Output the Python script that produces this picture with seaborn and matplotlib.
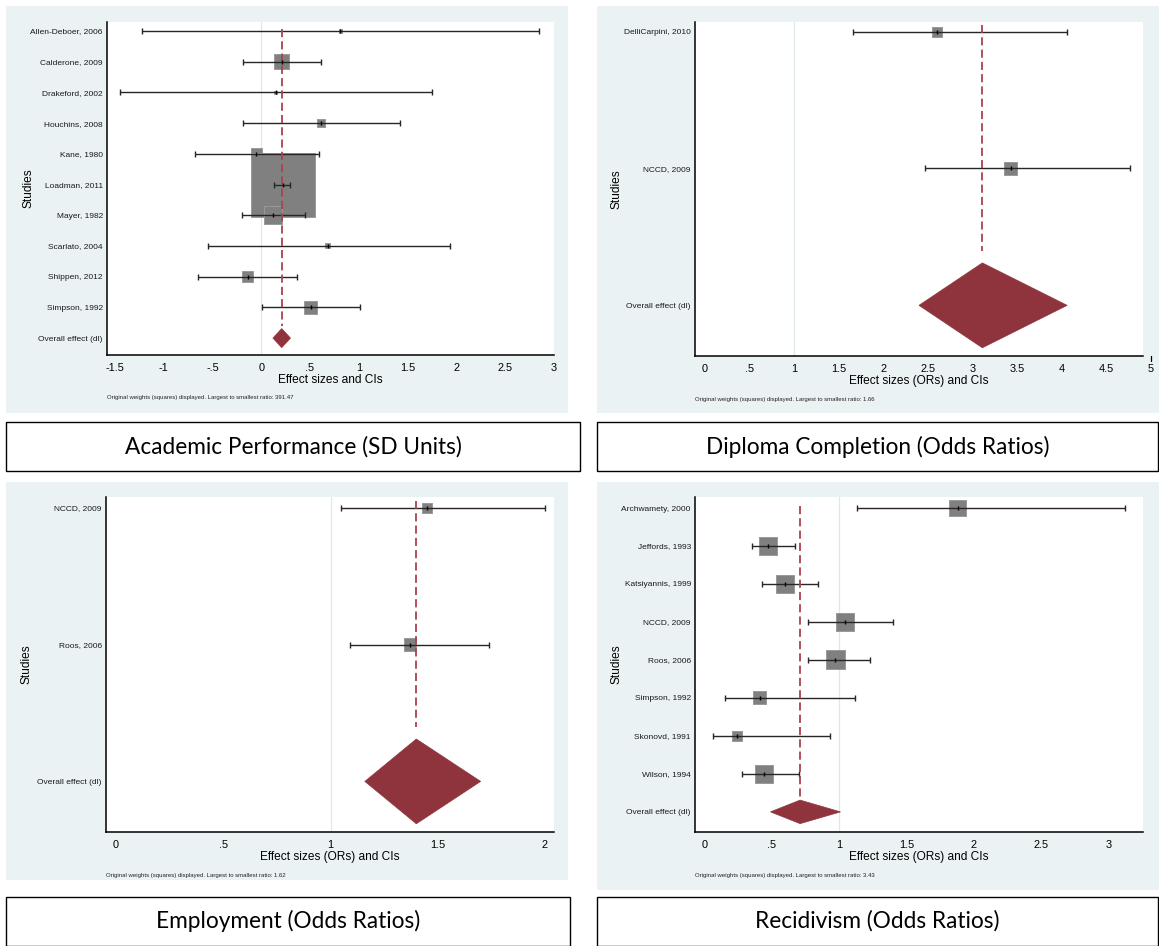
import matplotlib
matplotlib.use("Agg")
import numpy as np
import pandas as pd
import matplotlib.pyplot as plt
import seaborn as sns
from matplotlib.patches import Rectangle, Polygon
from matplotlib.ticker import FuncFormatter

# ---- Academic Performance (SD units) ----
acad_studies = ["Allen-Deboer, 2006", "Calderone, 2009", "Drakeford, 2002", "Houchins, 2008",
                "Kane, 1980", "Loadman, 2011", "Mayer, 1982", "Scarlato, 2004",
                "Shippen, 2012", "Simpson, 1992"]
acad_es = [0.81, 0.21, 0.15, 0.61, -0.05, 0.22, 0.12, 0.68, -0.14, 0.51]
acad_lo = [-1.22, -0.19, -1.45, -0.19, -0.68, 0.13, -0.20, -0.55, -0.65, 0.01]
acad_hi = [2.85, 0.61, 1.75, 1.42, 0.59, 0.30, 0.45, 1.93, 0.37, 1.01]
acad_wt = [0.20, 4.36, 0.20, 1.24, 2.34, 79.3, 6.27, 0.48, 2.34, 3.27]
acad_overall = [0.21, 0.12, 0.30]
acad_ticks = [-1.5, -1, -0.5, 0, 0.5, 1, 1.5, 2, 2.5, 3]
acad_ratio = "391.47"

# ---- Diploma Completion (odds ratios) ----
dipl_studies = ["DelliCarpini, 2010", "NCCD, 2009"]
dipl_es = [2.60, 3.43]
dipl_lo = [1.66, 2.47]
dipl_hi = [4.06, 4.76]
dipl_wt = [37.6, 62.4]
dipl_overall = [3.11, 2.40, 4.06]
dipl_ticks = [0, 0.5, 1, 1.5, 2, 2.5, 3, 3.5, 4, 4.5]
dipl_ratio = "1.66"

# ---- Employment (odds ratios) ----
empl_studies = ["NCCD, 2009", "Roos, 2006"]
empl_es = [1.45, 1.37]
empl_lo = [1.05, 1.09]
empl_hi = [2.00, 1.74]
empl_wt = [38.2, 61.8]
empl_overall = [1.40, 1.16, 1.70]
empl_ticks = [0, 0.5, 1, 1.5, 2]
empl_ratio = "1.62"

# ---- Recidivism (odds ratios) ----
reci_studies = ["Archwamety, 2000", "Jeffords, 1993", "Katsiyannis, 1999", "NCCD, 2009",
                "Roos, 2006", "Simpson, 1992", "Skonovd, 1991", "Wilson, 1994"]
reci_es = [1.88, 0.47, 0.60, 1.04, 0.97, 0.41, 0.24, 0.44]
reci_lo = [1.13, 0.35, 0.43, 0.77, 0.77, 0.15, 0.065, 0.28]
reci_hi = [3.12, 0.67, 0.84, 1.40, 1.23, 1.12, 0.93, 0.70]
reci_wt = [13.0, 14.6, 14.6, 14.6, 16.3, 7.6, 4.75, 14.6]
reci_overall = [0.71, 0.49, 1.01]
reci_ticks = [0, 0.5, 1, 1.5, 2, 2.5, 3]
reci_ratio = "3.43"

captions = ["Academic Performance (SD Units)", "Diploma Completion (Odds Ratios)",
            "Employment (Odds Ratios)", "Recidivism (Odds Ratios)"]

W, H = 1159, 946
BG = "#eaf2f3"
SQ = "#808080"
DIAMOND = "#8f343c"
DASH = "#a8434e"

sns.set_theme(style="white")
plt.rcParams["font.family"] = ["Liberation Sans", "DejaVu Sans"]

fig = plt.figure(figsize=(W / 100, H / 100), dpi=100)
fig.patch.set_facecolor("white")


def px_rect(x0, y0, x1, y1):
    return [x0 / W, 1 - y1 / H, (x1 - x0) / W, (y1 - y0) / H]


def stata_fmt(v, _pos=None):
    s = f"{v:g}"
    if s.startswith("0.") and s != "0":
        s = s[1:]
    elif s.startswith("-0."):
        s = "-" + s[2:]
    return s


def forest(box, studies, es, lo, hi, wt, overall, null, xlim, ylim, ticks,
           max_side, xlabel, ratio, extra_tick=None):
    x0, y0, x1, y1 = box
    ax = fig.add_axes(px_rect(x0, y0, x1, y1))
    ax.set_facecolor("white")
    n = len(studies)
    df = pd.DataFrame({"study": studies, "es": es, "lo": lo, "hi": hi,
                       "wt": wt, "pos": np.arange(n)})

    ax.axvline(null, color="#dfe8eb", lw=0.9, zorder=0)

    # squares: area proportional to study weight
    max_area = (max_side * 0.72) ** 2
    sns.scatterplot(data=df, x="es", y="pos", size="wt", sizes=(0, max_area),
                    size_norm=(0, df["wt"].max()), marker="s", color=SQ,
                    edgecolor="#999999", linewidth=0.7, legend=False, ax=ax, zorder=2)

    ax.errorbar(df["es"], df["pos"], xerr=[df["es"] - df["lo"], df["hi"] - df["es"]],
                fmt="none", ecolor="#262626", elinewidth=1.0, capsize=2.0,
                capthick=1.0, zorder=3)
    ax.scatter(df["es"], df["pos"], marker="|", s=5, color="black", linewidths=1.0, zorder=4)

    est, olo, ohi = overall
    ax.plot([est, est], [-0.05, n - 0.4], color=DASH, lw=1.3,
            dashes=(4.5, 2.3), zorder=3)
    hh = 0.31
    ax.add_patch(Polygon([(olo, n), (est, n - hh), (ohi, n), (est, n + hh)],
                         closed=True, facecolor=DIAMOND, edgecolor=DIAMOND, lw=0.5, zorder=4))

    ax.set_xlim(*xlim)
    ax.set_ylim(*ylim)
    ax.set_yticks(range(n + 1), studies + ["Overall effect (dl)"])
    ax.set_xticks(ticks)
    ax.xaxis.set_major_formatter(FuncFormatter(stata_fmt))
    ax.tick_params(axis="y", length=0, pad=3, labelsize=6.05, colors="#1a1a1a")
    ax.tick_params(axis="x", direction="out", length=3.6, width=0.9, pad=2.0,
                   labelsize=7.9, colors="black")
    for side in ["top", "right"]:
        ax.spines[side].set_visible(False)
    for side in ["left", "bottom"]:
        ax.spines[side].set_color("black")
        ax.spines[side].set_linewidth(1.1)

    hgt = y1 - y0
    wid = x1 - x0
    ax.set_xlabel(xlabel, fontsize=8.6, color="black")
    ax.xaxis.set_label_coords(0.5, -19 / hgt)
    ax.set_ylabel("Studies", fontsize=8.6, color="black")
    ax.yaxis.set_label_coords(-73 / wid, 0.5)
    ax.text(0.0, -43 / hgt, "Original weights (squares) displayed. Largest to smallest ratio: " + ratio,
            transform=ax.transAxes, fontsize=4.3, ha="left", va="center", color="#222222")

    if extra_tick is not None:
        # Stata draws the last tick just past the plot region
        ax.plot([extra_tick, extra_tick], [0, -5 / hgt],
                transform=ax.get_xaxis_transform(), color="black", lw=0.9, clip_on=False)
        ax.text(extra_tick, -7.5 / hgt, stata_fmt(extra_tick), transform=ax.get_xaxis_transform(),
                ha="center", va="top", fontsize=7.9, color="black")
    return ax


def panel_bg(x0, y0, x1, y1):
    fig.add_artist(Rectangle((x0 / W, 1 - y1 / H), (x1 - x0) / W, (y1 - y0) / H,
                             transform=fig.transFigure, facecolor=BG, edgecolor="none", zorder=-5))


def caption(x0, y0, x1, y1, text):
    fig.add_artist(Rectangle((x0 / W, 1 - y1 / H), (x1 - x0) / W, (y1 - y0) / H,
                             transform=fig.transFigure, facecolor="white", edgecolor="black",
                             lw=1.0, zorder=-4))
    fig.text((x0 + x1) / 2 / W, 1 - (y0 + y1) / 2 / H, text, ha="center", va="center",
             fontsize=16.3, family=["Lato", "DejaVu Sans"], color="black")


panel_bg(6, 6, 568, 413)
panel_bg(597, 6, 1159, 413)
panel_bg(6, 482, 568, 880)
panel_bg(597, 482, 1159, 890)

caption(6, 422, 580, 471, captions[0])
caption(597, 422, 1158, 471, captions[1])
caption(6, 897, 570, 945.5, captions[2])
caption(597, 897, 1158, 945.5, captions[3])

forest((107, 22, 554, 355), acad_studies, acad_es, acad_lo, acad_hi, acad_wt, acad_overall,
       0, (-1.58, 3.0), (10.55, -0.29), acad_ticks, 64, "Effect sizes and CIs", acad_ratio)
forest((695, 22, 1143, 356), dipl_studies, dipl_es, dipl_lo, dipl_hi, dipl_wt, dipl_overall,
       1, (-0.11, 4.91), (2.37, -0.07), dipl_ticks, 13, "Effect sizes (ORs) and CIs", dipl_ratio,
       extra_tick=5)
forest((106, 497, 554, 832), empl_studies, empl_es, empl_lo, empl_hi, empl_wt, empl_overall,
       1, (-0.047, 2.042), (2.37, -0.08), empl_ticks, 12.5, "Effect sizes (ORs) and CIs", empl_ratio)
forest((695, 497, 1143, 832), reci_studies, reci_es, reci_lo, reci_hi, reci_wt, reci_overall,
       1, (-0.07, 3.255), (8.53, -0.29), reci_ticks, 19, "Effect sizes (ORs) and CIs", reci_ratio)

fig.savefig("out.png", dpi=100, facecolor="white")
